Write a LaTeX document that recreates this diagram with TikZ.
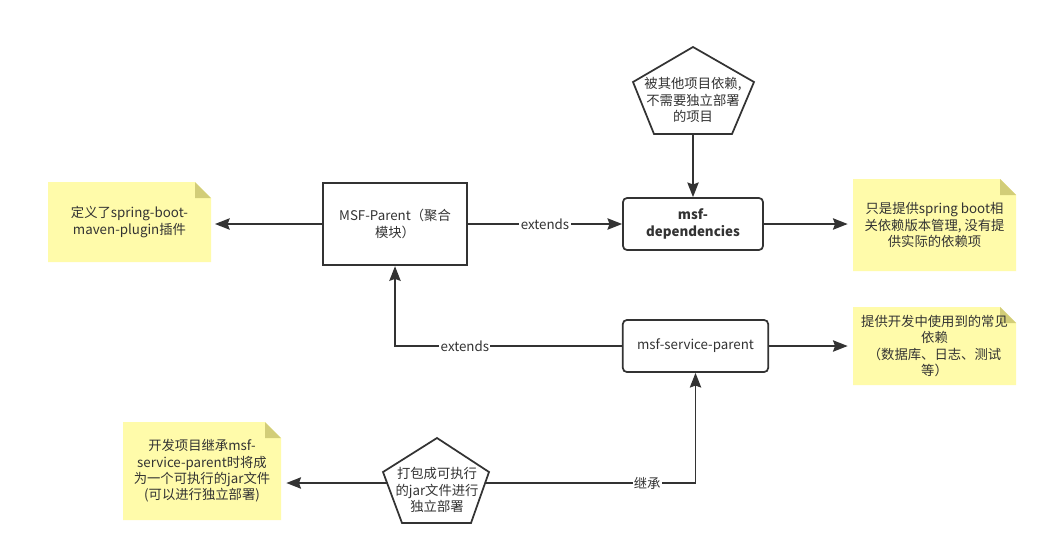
\documentclass[tikz,border=0pt]{standalone}
\usepackage{fontspec}
\setmainfont{Noto Sans CJK SC}
\usetikzlibrary{arrows.meta}

\definecolor{ink}{HTML}{333333}
\definecolor{notefill}{HTML}{FFFBAA}
\definecolor{notefold}{HTML}{D2CD78}

\tikzset{
  txt/.style={font=\fontsize{10pt}{12.2pt}\selectfont, text=ink, align=center},
  box/.style={txt, draw=ink, line width=1.3pt, fill=white, inner sep=0pt},
  roundbox/.style={box, rounded corners=3pt},
  link/.style={draw=ink, line width=1.3pt, -{Stealth[length=11pt, width=8.5pt, inset=1.5pt]}},
  lab/.style={txt, fill=white, inner sep=1pt},
  pent/.style={draw=ink, line width=1.3pt, fill=white, line join=miter},
}

% a yellow note with a folded top right corner
\newcommand{\stickynote}[6]{% name, x1, y1, x2, y2, text
  \fill[notefill] (#2,#3) -- ({#4-16},#3) -- (#4,{#3+16}) -- (#4,#5) -- (#2,#5) -- cycle;
  \fill[notefold] ({#4-16},#3) -- ({#4-16},{#3+16}) -- (#4,{#3+16}) -- cycle;
  \node[txt] (#1) at ({(#2+#4)/2},{(#3+#5)/2}) {#6};
  \coordinate (#1-w) at (#2,{(#3+#5)/2});
  \coordinate (#1-e) at (#4,{(#3+#5)/2});
}

\begin{document}
\begin{tikzpicture}[x=0.75pt, y=-0.75pt]
  \useasboundingbox[fill=white] (0,0) rectangle (1048,557);

  % notes
  \stickynote{nplugin}{48}{182}{211}{262}{定义了spring-boot-\\maven-plugin插件}
  \stickynote{nversion}{853}{179}{1016}{271}{只是提供spring boot相\\关依赖版本管理, 没有提\\供实际的依赖项}
  \stickynote{ncommon}{853}{307}{1016}{385}{提供开发中使用到的常见\\依赖\\（数据库、日志、测试\\等）}
  \stickynote{njar}{123}{422}{281}{520}{开发项目继承msf-\\service-parent时将成\\为一个可执行的jar文件\\(可以进行独立部署)}

  % modules
  \node[box, minimum width=108pt, minimum height=62pt] (parent) at (395,224)
    {MSF-Parent（聚合\\模块）};
  \node[roundbox, minimum width=105pt, minimum height=39pt, font=\fontsize{10pt}{12.2pt}\selectfont\bfseries] (deps) at (693,224)
    {msf-\\dependencies};
  \node[roundbox, minimum width=109pt, minimum height=39pt] (sparent) at (695.5,346)
    {msf-service-parent};

  % pentagon: reused by other projects
  \path[pent] (693,47) -- (633,82) -- (654,134) -- (732,134) -- (754,82) -- cycle;
  \node[txt] (reused) at (693,100) {被其他项目依赖,\\不需要独立部署\\的项目};
  \coordinate (reused-s) at (693,134);

  % pentagon: packaged as runnable jar
  \path[pent] (437,438) -- (383,472) -- (402,523) -- (471,523) -- (489,472) -- cycle;
  \node[txt] (runjar) at (437,490) {打包成可执行\\的jar文件进行\\独立部署};
  \coordinate (runjar-w) at (387.5,483);
  \coordinate (runjar-e) at (485.5,483);

  % connectors
  \draw[link, shorten >=3pt] (parent.west) -- (parent.west -| nplugin-e);
  \draw[link] (parent.east) -- node[lab] {extends} (deps.west);
  \draw[link] (reused-s) -- (deps.north);
  \draw[link, shorten >=4pt] (deps.east) -- (deps.east -| nversion-w);
  \draw[link] (sparent.west) -| node[lab, pos=0.346] {extends} (parent.south);
  \draw[link, shorten >=4pt] (sparent.east) -- (sparent.east -| ncommon-w);
  \draw[link] (runjar-e) -| node[lab, pos=0.385] {继承} (sparent.south);
  \draw[link, shorten >=4pt] (runjar-w) -- (runjar-w -| njar-e);
\end{tikzpicture}
\end{document}
